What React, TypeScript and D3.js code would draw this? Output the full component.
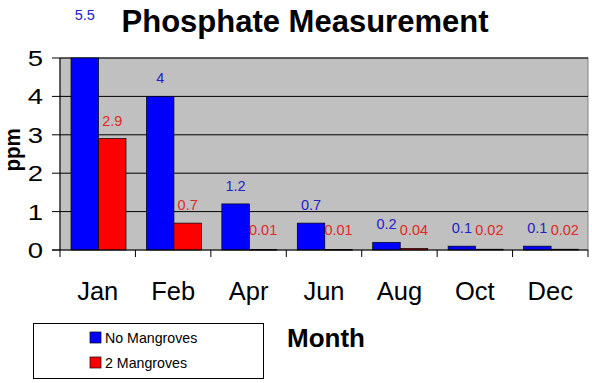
import React from "react";
import * as d3 from "d3";

const categories = ["Jan", "Feb", "Apr", "Jun", "Aug", "Oct", "Dec"];
const noMangroves = [5.5, 4, 1.2, 0.7, 0.2, 0.1, 0.1];
const twoMangroves = [2.9, 0.7, 0.01, 0.01, 0.04, 0.02, 0.02];
const seriesNames = ["No Mangroves", "2 Mangroves"];
const yTicks = [0, 1, 2, 3, 4, 5];

const W = 592, H = 383;
const m = { left: 60, right: 4, top: 58, bottom: 133 };
const FONT = "Arial, 'Liberation Sans', sans-serif";

export default function App() {
  const x = d3.scaleBand<string>().domain(categories).range([m.left, W - m.right]).paddingInner(0).paddingOuter(0);
  const y = d3.scaleLinear().domain([0, 5]).range([H - m.bottom, m.top]);
  const bw = 27.5;
  const groupOffset = 11;
  const series = [
    { name: seriesNames[0], values: noMangroves, fill: "#0000ff", text: "#2020c8" },
    { name: seriesNames[1], values: twoMangroves, fill: "#ff0000", text: "#e02828" },
  ];
  const y0 = y(0);
  const clampY = (v: number) => y(Math.min(v, 5));
  return (
    <svg width={W} height={H} style={{ position: "absolute", left: 0, top: 0, background: "#fff" }} fontFamily={FONT}>
      <rect x={m.left} y={m.top} width={W - m.right - m.left} height={y0 - m.top} fill="#c0c0c0" stroke="#808080" strokeWidth={1} />
      {yTicks.slice(1).map((t) => (
        <line key={t} x1={m.left} x2={W - m.right} y1={y(t)} y2={y(t)} stroke="#000" strokeWidth={1} />
      ))}
      {series.map((s, si) =>
        s.values.map((v, i) => {
          const bx = (x(categories[i]) as number) + groupOffset + si * bw;
          const top = clampY(v);
          return (
            <rect key={`${si}-${i}`} x={bx} y={top} width={bw} height={Math.max(y0 - top, 0.5)} fill={s.fill} stroke="#000" strokeWidth={0.7} />
          );
        })
      )}
      {series.map((s, si) =>
        s.values.map((v, i) => {
          const bx = (x(categories[i]) as number) + groupOffset + si * bw + bw / 2;
          const ty = v > 5 ? 20 : Math.min(clampY(v) - 13, y0 - 15);
          return (
            <text key={`l${si}-${i}`} x={bx} y={ty} fontSize={14.5} fill={s.text} textAnchor="middle">
              {String(v)}
            </text>
          );
        })
      )}
      <line x1={m.left} x2={m.left} y1={m.top} y2={y0} stroke="#000" />
      <line x1={m.left - 8} x2={W - m.right} y1={y0} y2={y0} stroke="#000" />
      {yTicks.map((t) => (
        <g key={`yt${t}`}>
          <line x1={m.left - 8} x2={m.left} y1={y(t)} y2={y(t)} stroke="#000" />
          <text transform={`translate(43,${y(t)}) scale(1.25,1)`} dy="0.36em" fontSize={22} textAnchor="end" fill="#000">{t}</text>
        </g>
      ))}
      {categories.map((c) => (
        <line key={`xt${c}`} x1={x(c) as number} x2={x(c) as number} y1={y0} y2={y0 + 7} stroke="#000" />
      ))}
      <line x1={W - m.right} x2={W - m.right} y1={y0} y2={y0 + 7} stroke="#000" />
      {categories.map((c) => (
        <text key={`xl${c}`} x={(x(c) as number) + x.bandwidth() / 2} y={300} fontSize={25.5} textAnchor="middle" fill="#000">{c}</text>
      ))}
      <text x={305} y={32} fontSize={31} fontWeight="bold" textAnchor="middle" fill="#000">Phosphate Measurement</text>
      <text transform={`translate(20,150) rotate(-90) scale(1,1.1)`} fontSize={20.5} fontWeight="bold" textAnchor="middle" fill="#000">ppm</text>
      <text x={287} y={347} fontSize={26} fontWeight="bold" fill="#000">Month</text>
      <rect x={33.5} y={323.5} width={230} height={55} fill="#fff" stroke="#000" strokeWidth={1} />
      {series.map((s, si) => (
        <g key={`lg${si}`} transform={`translate(90,${332 + si * 25})`}>
          <rect x={0} y={0} width={11} height={11} fill={s.fill} stroke="#000" strokeWidth={0.7} />
          <text x={15} y={10.5} fontSize={14.2} fill="#000">{s.name}</text>
        </g>
      ))}
    </svg>
  );
}
